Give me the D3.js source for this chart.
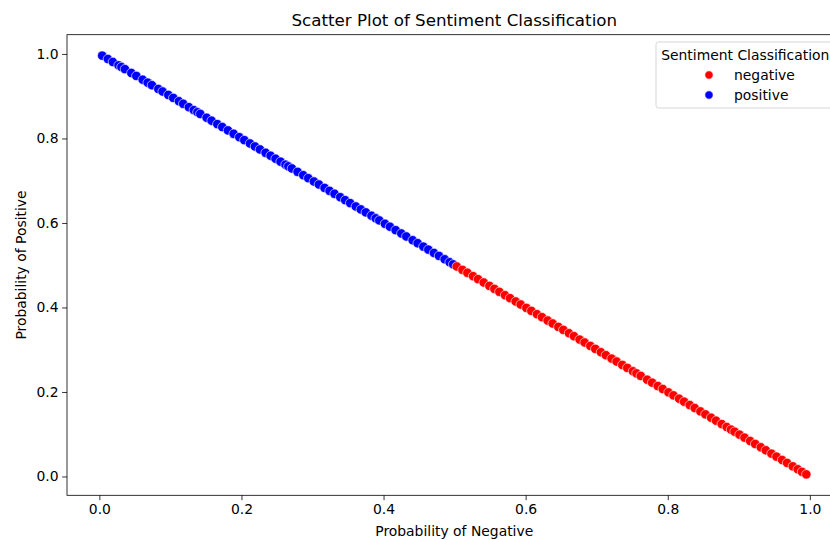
<!DOCTYPE html>
<html>
<head>
<meta charset="utf-8">
<script src="https://cdn.jsdelivr.net/npm/d3@7"></script>
<style>
    body { margin: 0; background: #fff; }
    text { font-family: "DejaVu Sans", sans-serif; fill: #000; }
</style>
</head>
<body>
<div id="chart-area"></div>
<script>
// Probability of Negative for each review
var negProb = [0.004, 0.012, 0.019, 0.027, 0.031, 0.036, 0.045, 0.052, 0.061, 0.068,
    0.074, 0.083, 0.089, 0.097, 0.104, 0.112, 0.118, 0.126, 0.133, 0.138,
    0.142, 0.151, 0.158, 0.166, 0.173, 0.181, 0.189, 0.197, 0.204, 0.212,
    0.219, 0.226, 0.234, 0.241, 0.248, 0.255, 0.262, 0.266, 0.271, 0.279,
    0.287, 0.294, 0.302, 0.309, 0.317, 0.324, 0.331, 0.339, 0.346, 0.353,
    0.361, 0.368, 0.375, 0.383, 0.389, 0.394, 0.402, 0.409, 0.417, 0.425,
    0.432, 0.441, 0.448, 0.456, 0.463, 0.471, 0.478, 0.486, 0.493, 0.498,
    0.503, 0.511, 0.518, 0.526, 0.533, 0.541, 0.549, 0.556, 0.563, 0.571,
    0.578, 0.586, 0.593, 0.601, 0.608, 0.616, 0.623, 0.631, 0.638, 0.646,
    0.653, 0.661, 0.668, 0.676, 0.683, 0.691, 0.698, 0.706, 0.713, 0.721,
    0.728, 0.736, 0.743, 0.751, 0.756, 0.762, 0.771, 0.778, 0.786, 0.793,
    0.801, 0.808, 0.816, 0.823, 0.831, 0.838, 0.846, 0.853, 0.861, 0.868,
    0.876, 0.883, 0.889, 0.894, 0.901, 0.908, 0.916, 0.923, 0.931, 0.938,
    0.946, 0.953, 0.961, 0.968, 0.976, 0.983, 0.989, 0.995];

// Probability of Positive for each review
var posProb = [0.996, 0.988, 0.981, 0.973, 0.969, 0.964, 0.955, 0.948, 0.939, 0.932,
    0.926, 0.917, 0.911, 0.903, 0.896, 0.888, 0.882, 0.874, 0.867, 0.862,
    0.858, 0.849, 0.842, 0.834, 0.827, 0.819, 0.811, 0.803, 0.796, 0.788,
    0.781, 0.774, 0.766, 0.759, 0.752, 0.745, 0.738, 0.734, 0.729, 0.721,
    0.713, 0.706, 0.698, 0.691, 0.683, 0.676, 0.669, 0.661, 0.654, 0.647,
    0.639, 0.632, 0.625, 0.617, 0.611, 0.606, 0.598, 0.591, 0.583, 0.575,
    0.568, 0.559, 0.552, 0.544, 0.537, 0.529, 0.522, 0.514, 0.507, 0.502,
    0.497, 0.489, 0.482, 0.474, 0.467, 0.459, 0.451, 0.444, 0.437, 0.429,
    0.422, 0.414, 0.407, 0.399, 0.392, 0.384, 0.377, 0.369, 0.362, 0.354,
    0.347, 0.339, 0.332, 0.324, 0.317, 0.309, 0.302, 0.294, 0.287, 0.279,
    0.272, 0.264, 0.257, 0.249, 0.244, 0.238, 0.229, 0.222, 0.214, 0.207,
    0.199, 0.192, 0.184, 0.177, 0.169, 0.162, 0.154, 0.147, 0.139, 0.132,
    0.124, 0.117, 0.111, 0.106, 0.099, 0.092, 0.084, 0.077, 0.069, 0.062,
    0.054, 0.047, 0.039, 0.032, 0.024, 0.017, 0.011, 0.005];

var classes = ["negative", "positive"];
var classColors = ["red", "blue"];
var tickValues = [0.0, 0.2, 0.4, 0.6, 0.8, 1.0];

var data = negProb.map(function (d, i) {
    return {
        neg: d,
        pos: posProb[i],
        label: posProb[i] > d ? "positive" : "negative"
    };
});

var svgWidth = 830, svgHeight = 540;
var plot = { left: 67, right: 841.5, top: 34.7, bottom: 495.3 };

var svg = d3.select("#chart-area")
    .append("svg")
    .attr("width", svgWidth)
    .attr("height", svgHeight);

// matplotlib style 5% margins around data
var xPad = (d3.max(negProb) - d3.min(negProb)) * 0.05;
var yPad = (d3.max(posProb) - d3.min(posProb)) * 0.05;

var x = d3.scaleLinear()
    .domain([d3.min(negProb) - xPad, d3.max(negProb) + xPad])
    .range([plot.left, plot.right]);

var y = d3.scaleLinear()
    .domain([d3.min(posProb) - yPad, d3.max(posProb) + yPad])
    .range([plot.bottom, plot.top]);

var color = d3.scaleOrdinal()
    .domain(classes)
    .range(classColors);

// Axes
var xAxisCall = d3.axisBottom(x)
    .tickValues(tickValues)
    .tickFormat(d3.format(".1f"))
    .tickSize(4.9)
    .tickPadding(3.5);
var xAxis = svg.append("g")
    .attr("transform", "translate(0," + plot.bottom + ")")
    .call(xAxisCall);

var yAxisCall = d3.axisLeft(y)
    .tickValues(tickValues)
    .tickFormat(d3.format(".1f"))
    .tickSize(4.9)
    .tickPadding(3.5);
var yAxis = svg.append("g")
    .attr("transform", "translate(" + plot.left + ",0)")
    .call(yAxisCall);

[xAxis, yAxis].forEach(function (ax) {
    ax.select(".domain").remove();
    ax.selectAll(".tick line").attr("stroke", "#000").attr("stroke-width", 0.8);
    ax.selectAll(".tick text")
        .attr("font-family", "DejaVu Sans")
        .attr("font-size", "13.9px")
        .attr("fill", "#000");
});

// Points
svg.append("g")
    .selectAll("circle")
    .data(data)
    .enter().append("circle")
    .attr("cx", function (d) { return x(d.neg); })
    .attr("cy", function (d) { return y(d.pos); })
    .attr("r", 4.7)
    .attr("fill", function (d) { return color(d.label); })
    .attr("stroke", "#fff")
    .attr("stroke-opacity", 0.8)
    .attr("stroke-width", 0.75);

// Frame
svg.append("rect")
    .attr("x", plot.left)
    .attr("y", plot.top)
    .attr("width", plot.right - plot.left)
    .attr("height", plot.bottom - plot.top)
    .attr("fill", "none")
    .attr("stroke", "#000")
    .attr("stroke-width", 0.8);

// Labels
svg.append("text")
    .attr("x", (plot.left + plot.right) / 2)
    .attr("y", plot.top - 8.5)
    .attr("text-anchor", "middle")
    .attr("font-size", "16.7px")
    .text("Scatter Plot of Sentiment Classification");

svg.append("text")
    .attr("x", (plot.left + plot.right) / 2)
    .attr("y", 536)
    .attr("text-anchor", "middle")
    .attr("font-size", "13.9px")
    .text("Probability of Negative");

svg.append("text")
    .attr("transform", "translate(26," + ((plot.top + plot.bottom) / 2) + ") rotate(-90)")
    .attr("text-anchor", "middle")
    .attr("font-size", "13.9px")
    .text("Probability of Positive");

// Legend
var legend = svg.append("g")
    .attr("transform", "translate(656,42)");

legend.append("rect")
    .attr("width", 178.5)
    .attr("height", 66)
    .attr("rx", 2.5)
    .attr("fill", "#fff")
    .attr("fill-opacity", 0.8)
    .attr("stroke", "#cccccc")
    .attr("stroke-width", 0.8);

legend.append("text")
    .attr("x", 89.25)
    .attr("y", 18)
    .attr("text-anchor", "middle")
    .attr("font-size", "13.9px")
    .text("Sentiment Classification");

classes.forEach(function (c, i) {
    var row = legend.append("g")
        .attr("transform", "translate(0," + (33 + i * 20) + ")");

    row.append("circle")
        .attr("cx", 53)
        .attr("cy", 0)
        .attr("r", 4.2)
        .attr("fill", color(c))
        .attr("stroke", "#fff")
        .attr("stroke-width", 0.75);

    row.append("text")
        .attr("x", 78)
        .attr("y", 5)
        .attr("font-size", "13.9px")
        .text(c);
});
</script>
</body>
</html>
